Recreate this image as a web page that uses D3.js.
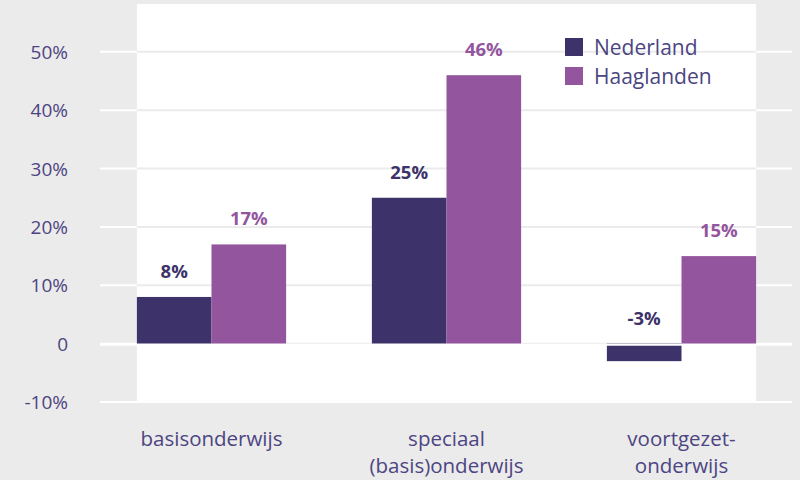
<!DOCTYPE html>
<html>
<head>
<meta charset="utf-8">
<script src="https://cdn.jsdelivr.net/npm/d3@7"></script>
<style>
  html, body { margin: 0; padding: 0; background: #ebebeb; }
  svg { display: block; font-family: "Open Sans", "Noto Sans", sans-serif; }
</style>
</head>
<body>
<svg id="chart" width="800" height="480"></svg>
<script>
// Groei leerlingaantallen per onderwijssoort
const categories = [["basisonderwijs"], ["speciaal", "(basis)onderwijs"], ["voortgezet-", "onderwijs"]];
const series = ["Nederland", "Haaglanden"];
const nederland = [8, 25, -3];
const haaglanden = [17, 46, 15];
const yTicks = [-10, 0, 10, 20, 30, 40, 50];
const yTickLabels = ["-10%", "0", "10%", "20%", "30%", "40%", "50%"];

const colors = { Nederland: "#3d3269", Haaglanden: "#93559e" };
const textColor = "#4c4582";

const svg = d3.select("#chart");
const W = 800, H = 480;

svg.append("rect").attr("width", W).attr("height", H).attr("fill", "#ebebeb");

const y = d3.scaleLinear().domain([-10, 58.2]).range([402, 4]);
const x0 = d3.scaleBand().domain(d3.range(categories.length))
  .range([94, 799]).paddingInner(0.365).paddingOuter(0.1825);
const x1 = d3.scaleBand().domain(series).range([0, x0.bandwidth()]);

const gridX0 = 100, gridX1 = 792;
const panelX0 = x0(0), panelX1 = x0(categories.length - 1) + x0.bandwidth();

// white grid lines over the grey margin
svg.append("g").selectAll("line").data(yTicks).join("line")
  .attr("x1", gridX0).attr("x2", gridX1)
  .attr("y1", d => y(d)).attr("y2", d => y(d))
  .attr("stroke", "#ffffff").attr("stroke-width", 2);

// white plot panel spanning the bar groups
svg.append("rect")
  .attr("x", panelX0).attr("y", y.range()[1])
  .attr("width", panelX1 - panelX0).attr("height", y(-10) - y.range()[1])
  .attr("fill", "#ffffff");

// light grid lines inside the panel
svg.append("g").selectAll("line").data(yTicks.filter(d => d > -10)).join("line")
  .attr("x1", panelX0).attr("x2", panelX1)
  .attr("y1", d => y(d)).attr("y2", d => y(d))
  .attr("stroke", "#ebebeb").attr("stroke-width", 2);

// y axis labels
const yAxis = d3.axisLeft(y).tickValues(yTicks)
  .tickFormat((d, i) => yTickLabels[i]).tickSize(0).tickPadding(0);
const yg = svg.append("g").attr("transform", "translate(68,0)").call(yAxis);
yg.select(".domain").remove();
yg.selectAll("text")
  .attr("fill", textColor).attr("font-size", 19).attr("font-weight", 400)
  .attr("font-family", "'Open Sans', sans-serif").attr("dy", "0.35em");

// bars
const data = categories.map((c, i) => ({ i, values: [
  { key: "Nederland", value: nederland[i] },
  { key: "Haaglanden", value: haaglanden[i] }
]}));

const groups = svg.append("g").selectAll("g").data(data).join("g")
  .attr("transform", d => `translate(${x0(d.i)},0)`);

groups.selectAll("rect").data(d => d.values).join("rect")
  .attr("x", d => x1(d.key))
  .attr("width", x1.bandwidth())
  .attr("y", d => y(Math.max(0, d.value)))
  .attr("height", d => Math.abs(y(d.value) - y(0)))
  .attr("fill", d => colors[d.key]);

// zero line drawn on top of the bars
svg.append("line")
  .attr("x1", gridX0).attr("x2", gridX1)
  .attr("y1", y(0) + 1).attr("y2", y(0) + 1)
  .attr("stroke", "#ffffff").attr("stroke-width", 2);

// value labels
groups.selectAll("text.val").data(d => d.values).join("text")
  .attr("class", "val")
  .attr("x", d => x1(d.key) + x1.bandwidth() / 2)
  .attr("y", d => y(Math.max(0, d.value)) - 19)
  .attr("text-anchor", "middle")
  .attr("font-size", 18.5).attr("font-weight", 700)
  .attr("fill", d => colors[d.key])
  .text(d => String(d.value) + "%");

// category labels, one text element per line
const lines = categories.flatMap((c, i) => c.map((t, j) => ({ i, j, t })));
svg.append("g").selectAll("text").data(lines).join("text")
  .attr("x", d => x0(d.i) + x0.bandwidth() / 2)
  .attr("y", d => 446 + d.j * 27)
  .attr("text-anchor", "middle")
  .attr("font-size", 20.5).attr("font-weight", 400)
  .attr("fill", textColor)
  .text(d => d.t);

// legend
const legend = svg.append("g").attr("transform", "translate(565,38)");
const li = legend.selectAll("g").data(series).join("g")
  .attr("transform", (d, i) => `translate(0,${i * 29})`);
li.append("rect").attr("width", 18).attr("height", 18).attr("fill", d => colors[d]);
li.append("text").attr("x", 29).attr("y", 17)
  .attr("font-size", 21).attr("font-weight", 400)
  .attr("fill", textColor).text(d => d);
</script>
</body>
</html>
